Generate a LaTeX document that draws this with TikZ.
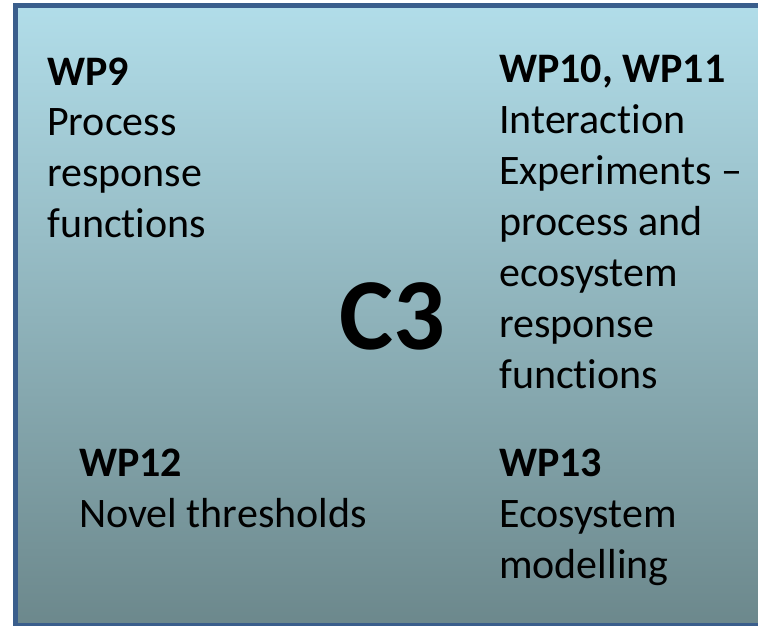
\documentclass[tikz,border=0pt]{standalone}
\usepackage{fontspec}
\setmainfont{Carlito}[Ligatures={NoCommon},RawFeature={-liga;-clig;-dlig;-calt}]
\newcommand{\nolig}{\kern0pt\relax}
\definecolor{frameblue}{RGB}{58,94,140}
\definecolor{toptint}{RGB}{177,221,233}
\definecolor{bottint}{RGB}{108,136,140}
\begin{document}
\begin{tikzpicture}[x=1pt,y=-1pt,
  txt/.style={anchor=base west,inner sep=0pt,font=\fontsize{42}{51}\selectfont},
  hd/.style={txt,font=\fontsize{42}{51}\selectfont\bfseries}]
\useasboundingbox (0,0) rectangle (758,626);
\path[top color=toptint,bottom color=bottint] (15,6) rectangle (765,625);
\draw[frameblue,line width=5pt] (15,6) rectangle (765,625);
% WP9
\node[hd]  (wp9)  at (47,85)  {WP9};
\node[txt] (wp9a) at (47,135) {Process};
\node[txt] (wp9b) at (47,186) {response};
\node[txt] (wp9c) at (47,237) {func\nolig tions};
% WP10, WP11
\node[hd]  (wp10)  at (499,83)  {WP10, WP11};
\node[txt] (wp10a) at (499,133) {Interac\nolig tion};
\node[txt] (wp10b) at (499,184) {Experiments --};
\node[txt] (wp10c) at (499,235) {process and};
\node[txt] (wp10d) at (499,286) {ecosystem};
\node[txt] (wp10e) at (499,337) {response};
\node[txt] (wp10f) at (499,388) {func\nolig tions};
% C3
\node[anchor=base west,inner sep=0pt,font=\fontsize{102}{112}\selectfont\bfseries] (c3) at (339,349) {C3};
% WP12
\node[hd]  (wp12)  at (79,476) {WP12};
\node[txt] (wp12a) at (79,527) {Novel thresholds};
% WP13
\node[hd]  (wp13)  at (499,476) {WP13};
\node[txt] (wp13a) at (499,527) {Ecosystem};
\node[txt] (wp13b) at (499,578) {modelling};
\end{tikzpicture}
\end{document}
